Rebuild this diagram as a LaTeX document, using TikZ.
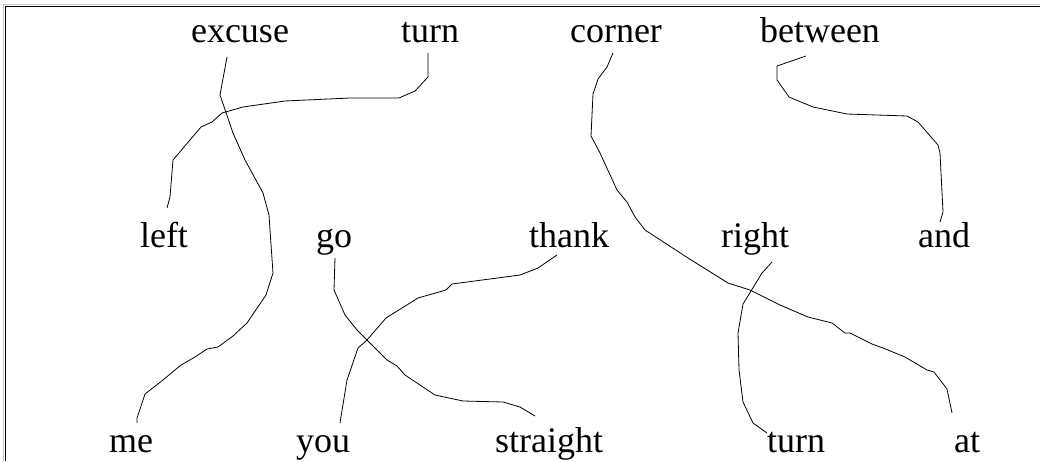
\documentclass[tikz,border=0pt]{standalone}
\usepackage{fontspec}
\setmainfont{Liberation Serif}
\begin{document}
\begin{tikzpicture}[x=1pt,y=-1pt,
  word/.style={anchor=base,inner sep=0pt,font=\fontsize{36}{40}\selectfont},
  link/.style={draw=black,line width=0.8pt,line join=round}]
\useasboundingbox (0,0) rectangle (1040,461);
% frame
\draw[gray!45,line width=1.3pt] (3.5,461) -- (3.5,4.5) -- (1040,4.5);
\draw[black,line width=1.1pt] (5.8,461) -- (5.8,6.8) -- (1040,6.8);
% words
\node[word] (excuse) at (240,42) {excuse};
\node[word] (turnA) at (430,42) {turn};
\node[word] (corner) at (616,42) {corner};
\node[word] (between) at (820,42) {between};
\node[word] (left) at (164,247) {left};
\node[word] (go) at (334,247) {go};
\node[word] (thank) at (569,247) {thank};
\node[word] (right) at (755,247) {right};
\node[word] (and) at (944,247) {and};
\node[word] (me) at (131,452) {me};
\node[word] (you) at (323,452) {you};
\node[word] (straight) at (549,452) {straight};
\node[word] (turnB) at (796,452) {turn};
\node[word] (at) at (967,452) {at};
% links
\draw[link] ([shift={(-13,15)}]excuse.base) -- (220,95) -- (233,133) -- (245,160) -- (263,193) -- (269,215) -- (270,230) -- (273,273) -- (266,295) -- (247,323) -- (233,336) -- (218,347) -- (207,349) -- (195,357) -- (181,365) -- (163,380) -- (145,394) -- (137,418) -- ([shift={(6,-29)}]me.base);
\draw[link] ([shift={(-2,11)}]turnA.base) -- (428,77) -- (415,91) -- (399,98) -- (350,98) -- (285,101) -- (243,107) -- (222,113) -- (212,122) -- (201,127) -- (173,160) -- (170,197) -- ([shift={(3,-39)}]left.base);
\draw[link] ([shift={(-3,11)}]corner.base) -- (607,67) -- (598,79) -- (593,94) -- (591,136) -- (600,153) -- (617,190) -- (627,202) -- (635,217) -- (645,230) -- (688,258) -- (728,283) -- (750,290) -- (780,305) -- (808,317) -- (832,323) -- (845,333) -- (850,333) -- (872,344) -- (883,348) -- (905,357) -- (927,370) -- (934,372) -- (947,389) -- ([shift={(-15,-39)}]at.base);
\draw[link] ([shift={(17,15)}]right.base) -- (762,273) -- (743,304) -- (738,333) -- (739,370) -- (743,402) -- (753,423) -- ([shift={(-29,-19)}]turnB.base);
\draw[link] ([shift={(-14,14)}]between.base) -- (777,66) -- (777,80) -- (789,97) -- (813,107) -- (847,114) -- (907,116) -- (918,122) -- (938,145) -- (940,153) -- (943,212) -- ([shift={(-4,-25)}]and.base);
\draw[link] ([shift={(1,11)}]go.base) -- (334,290) -- (345,315) -- (357,330) -- (367,340) -- (387,360) -- (397,366) -- (405,375) -- (435,395) -- (463,401) -- (503,402) -- (520,407) -- ([shift={(-14,-36)}]straight.base);
\draw[link] ([shift={(-12,8)}]thank.base) -- (538,268) -- (520,275) -- (452,284) -- (446,290) -- (418,298) -- (386,318) -- (367,340) -- (358,348) -- (347,380) -- ([shift={(17,-29)}]you.base);
\end{tikzpicture}
\end{document}
